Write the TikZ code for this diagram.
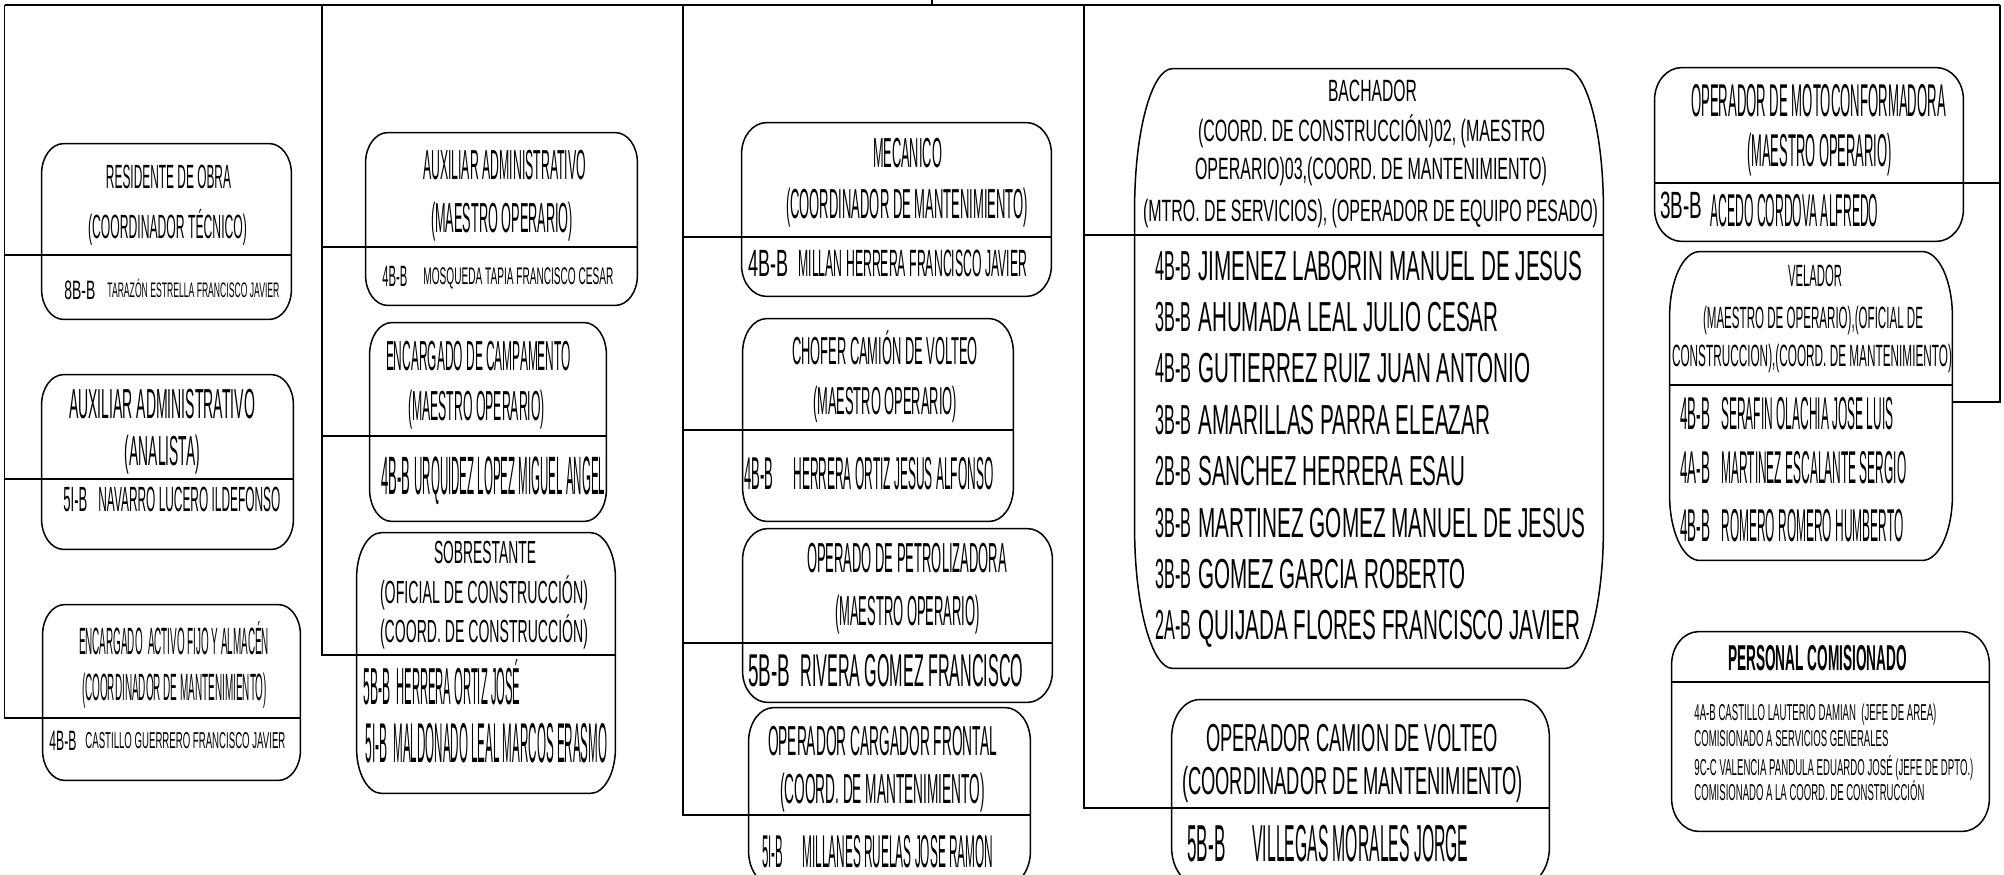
\documentclass[tikz,border=0pt]{standalone}
\usepackage{fontspec}
\setmainfont{Liberation Sans}
\usepackage{graphicx}
\usetikzlibrary{calc}

% one pixel of the drawing
\newlength{\pxu}\setlength{\pxu}{0.5pt}
\newcommand{\fitw}[2]{\resizebox{#1\pxu}{\height}{#2}}

\tikzset{
  edge line/.style={line width=0.75pt},
  box line/.style={line width=0.75pt},
  lbl/.style={inner sep=0pt, anchor=base, font=\fontsize{#1}{#1}\selectfont},
  lblw/.style={inner sep=0pt, anchor=base west, font=\fontsize{#1}{#1}\selectfont},
}

% name, x1, y1, x2, y2, rx, ry, y of divider
\newcommand{\orgbox}[8]{%
  \node[inner sep=0pt, minimum width={(#4-#2)*0.5pt}, minimum height={(#5-#3)*0.5pt}]
    (#1) at ({(#2+#4)/2},{(#3+#5)/2}) {};
  \draw[box line] ([xshift={#6*0.5pt}]#1.north west) -- ([xshift={-#6*0.5pt}]#1.north east)
    arc[start angle=90, end angle=0, x radius={#6*0.5pt}, y radius={#7*0.5pt}]
    -- ([yshift={#7*0.5pt}]#1.south east)
    arc[start angle=0, end angle=-90, x radius={#6*0.5pt}, y radius={#7*0.5pt}]
    -- ([xshift={#6*0.5pt}]#1.south west)
    arc[start angle=270, end angle=180, x radius={#6*0.5pt}, y radius={#7*0.5pt}]
    -- ([yshift={-#7*0.5pt}]#1.north west)
    arc[start angle=180, end angle=90, x radius={#6*0.5pt}, y radius={#7*0.5pt}] -- cycle;
  \coordinate (#1-d) at (#1.west |- 0,#8);
  \draw[box line] (#1-d) -- (#1.east |- #1-d);
}

\begin{document}
\begin{tikzpicture}[x=0.5pt, y=-0.5pt]
\useasboundingbox (0,0) rectangle (2004,874);

% boxes
\orgbox{res}{42}{144}{291}{319}{22}{30}{255}
\orgbox{ana}{42}{375}{293}{549}{22}{30}{479}
\orgbox{enc}{43}{605}{300}{780}{22}{30}{718}
\orgbox{aux}{366}{133}{637}{305}{22}{30}{247}
\orgbox{cam}{370}{323}{606}{521}{22}{32}{436}
\orgbox{sob}{357}{533}{615}{793}{25}{45}{655}
\orgbox{mec}{742}{123}{1051}{296}{25}{31}{237}
\orgbox{cho}{743}{319}{1013}{521}{24}{34}{430}
\orgbox{pet}{743}{529}{1052}{702}{25}{31}{643}
\orgbox{car}{749}{708}{1030}{885}{25}{34}{815}
\orgbox{bac}{1135}{69}{1603}{668}{38}{140}{235}
\orgbox{cv}{1172}{700}{1549}{885}{28}{38}{808}
\orgbox{moto}{1655}{68}{1963}{241}{27}{32}{183}
\orgbox{vel}{1670}{252}{1952}{560}{30}{65}{385}
\orgbox{pc}{1672}{632}{1989}{831}{27}{33}{682}

% column lines
\coordinate (c1) at (4.5,5);
\coordinate (c2) at (322,5);
\coordinate (c3) at (683,5);
\coordinate (c4) at (1084,5);
\coordinate (c5) at (2000,5);
\coordinate (up) at (932,0);
\coordinate (vel-b) at (vel.east |- 0,402);

\draw[edge line] (c1) -- (c5);
\draw[edge line] (up) -- (up |- c1);
\draw[edge line] (c1) -- (c1 |- enc-d) -- (enc-d);
\draw[edge line] (c2) -- (c2 |- sob-d) -- (sob-d);
\draw[edge line] (c3) -- (c3 |- car-d) -- (car-d);
\draw[edge line] (c4) -- (c4 |- cv-d) -- (cv-d);
\draw[edge line] (c5) -- (c5 |- vel-b) -- (vel-b);
\draw[edge line] (moto-d) -- (moto-d -| c5);
\foreach \b in {res,ana} \draw[edge line] (c1 |- \b-d) -- (\b-d);
\foreach \b in {aux,cam} \draw[edge line] (c2 |- \b-d) -- (\b-d);
\foreach \b in {mec,cho,pet} \draw[edge line] (c3 |- \b-d) -- (\b-d);
\draw[edge line] (c4 |- bac-d) -- (bac-d);

% column 1
\node[lbl=16.8] (res-t1) at (168.5,188) {\fitw{125}{RESIDENTE DE OBRA}};
\node[lbl=16.8] (res-t2) at (167.5,238) {\fitw{159}{(COORDINADOR TÉCNICO)}};
\node[lblw=13.3] (res-c) at (64,299.5) {\fitw{31}{8B-B}};
\node[lblw=10.5] (res-n) at (107,297.5) {\fitw{172}{TARAZÓN ESTRELLA FRANCISCO JAVIER}};

\node[lbl=21] (ana-t1) at (162,418) {\fitw{186}{AUXILIAR ADMINISTRATIVO}};
\node[lbl=21] (ana-t2) at (162.5,465) {\fitw{75}{(ANALISTA)}};
\node[lblw=17.5] (ana-c) at (63,511.5) {\fitw{24}{5I-B}};
\node[lblw=17.5] (ana-n) at (98,511.5) {\fitw{182}{NAVARRO LUCERO ILDEFONSO}};

\node[lbl=19] (enc-t1) at (174,654.5) {\fitw{190}{ENCARGADO\ \ ACTIVO FIJO Y ALMACÉN}};
\node[lbl=19] (enc-t2) at (174.5,700.5) {\fitw{185}{(COORDINADOR DE MANTENIMIENTO)}};
\node[lblw=14] (enc-c) at (49,750) {\fitw{27}{4B-B}};
\node[lblw=11.5] (enc-n) at (85,748) {\fitw{200}{CASTILLO GUERRERO FRANCISCO JAVIER}};

% column 2
\node[lbl=21] (aux-t1) at (504.5,179) {\fitw{163}{AUXILIAR ADMINISTRATIVO}};
\node[lbl=21] (aux-t2) at (502,232) {\fitw{142}{(MAESTRO OPERARIO)}};
\node[lblw=14.7] (aux-c) at (382,286.5) {\fitw{25}{4B-B}};
\node[lblw=12] (aux-n) at (423,284.5) {\fitw{190}{MOSQUEDA TAPIA FRANCISCO CESAR}};

\node[lbl=21] (cam-t1) at (478.5,370) {\fitw{185}{ENCARGADO DE CAMPAMENTO}};
\node[lbl=21] (cam-t2) at (476.5,420) {\fitw{137}{(MAESTRO OPERARIO)}};
\node[lblw=27] (cam-c) at (381,494.5) {\fitw{29}{4B-B}};
\node[lblw=27] (cam-n) at (414,494.5) {\fitw{191}{URQUIDEZ LOPEZ MIGUEL ANGEL}};

\node[lbl=16] (sob-t1) at (485,563.5) {\fitw{102}{SOBRESTANTE}};
\node[lbl=16] (sob-t2) at (484,603.5) {\fitw{208}{(OFICIAL DE CONSTRUCCIÓN)}};
\node[lbl=16] (sob-t3) at (484,642.5) {\fitw{208}{(COORD. DE CONSTRUCCIÓN)}};
\node[lblw=26] (sob-c1) at (363,704.5) {\fitw{27}{5B-B}};
\node[lblw=26] (sob-n1) at (396,704.5) {\fitw{124}{HERRERA ORTIZ JOSÉ}};
\node[lblw=28] (sob-c2) at (365,762) {\fitw{22}{5I-B}};
\node[lblw=28] (sob-n2) at (393,762) {\fitw{214}{MALDONADO LEAL MARCOS ERASMO}};

% column 3
\node[lbl=21] (mec-t1) at (907.5,167) {\fitw{69}{MECANICO}};
\node[lbl=21] (mec-t2) at (907,218) {\fitw{242}{(COORDINADOR DE MANTENIMIENTO)}};
\node[lblw=19] (mec-c) at (748,276.5) {\fitw{40}{4B-B}};
\node[lblw=19] (mec-n) at (798,276.5) {\fitw{229}{MILLAN HERRERA FRANCISCO JAVIER}};

\node[lbl=19.5] (cho-t1) at (885,364) {\fitw{186}{CHOFER CAMIÓN DE VOLTEO}};
\node[lbl=19.5] (cho-t2) at (885,414) {\fitw{144}{(MAESTRO OPERARIO)}};
\node[lblw=23] (cho-c) at (744,489.5) {\fitw{29}{4B-B}};
\node[lblw=23] (cho-n) at (793,489.5) {\fitw{200}{HERRERA ORTIZ JESUS ALFONSO}};

\node[lbl=21] (pet-t1) at (907,572) {\fitw{200}{OPERADO DE PETROLIZADORA}};
\node[lbl=21] (pet-t2) at (907.5,625) {\fitw{145}{(MAESTRO OPERARIO)}};
\node[lblw=23] (pet-c) at (748,686.5) {\fitw{42}{5B-B}};
\node[lblw=23] (pet-n) at (800,686.5) {\fitw{223}{RIVERA GOMEZ FRANCISCO}};

\node[lbl=21] (car-t1) at (882.5,755) {\fitw{229}{OPERADOR CARGADOR FRONTAL}};
\node[lbl=21] (car-t2) at (882.5,803) {\fitw{205}{(COORD. DE MANTENIMIENTO)}};
\node[lblw=23] (car-c) at (762,867) {\fitw{21}{5I-B}};
\node[lblw=23] (car-n) at (802,867) {\fitw{191}{MILLANES RUELAS JOSE RAMON}};

% column 4
\node[lbl=15.4] (bac-t1) at (1372.5,101) {\fitw{89}{BACHADOR}};
\node[lbl=15.4] (bac-t2) at (1371.5,141) {\fitw{347}{(COORD. DE CONSTRUCCIÓN)02, (MAESTRO}};
\node[lbl=15.4] (bac-t3) at (1371,179) {\fitw{352}{OPERARIO)03,(COORD. DE MANTENIMIENTO)}};
\node[lbl=15.4] (bac-t4) at (1370.5,221) {\fitw{455}{(MTRO. DE SERVICIOS), (OPERADOR DE EQUIPO PESADO)}};
\foreach \cd/\nm/\w [count=\i from 0] in {
    4B-B/JIMENEZ LABORIN MANUEL DE JESUS/384,
    3B-B/AHUMADA LEAL JULIO CESAR/300,
    4B-B/GUTIERREZ RUIZ JUAN ANTONIO/332,
    3B-B/AMARILLAS PARRA ELEAZAR/292,
    2B-B/SANCHEZ HERRERA ESAU/267,
    3B-B/MARTINEZ GOMEZ MANUEL DE JESUS/387,
    3B-B/GOMEZ GARCIA ROBERTO/267,
    2A-B/QUIJADA FLORES FRANCISCO JAVIER/382} {
  \node[lblw=21] (bac-c\i) at (1155,{280+51.4*\i}) {\fitw{36}{\cd}};
  \node[lblw=21] (bac-n\i) at (1198,{280+51.4*\i}) {\fitw{\w}{\nm}};
}

\node[lbl=19.5] (cv-t1) at (1352,751) {\fitw{292}{OPERADOR CAMION DE VOLTEO}};
\node[lbl=19.5] (cv-t2) at (1352.5,794) {\fitw{341}{(COORDINADOR DE MANTENIMIENTO)}};
\node[lblw=26] (cv-c) at (1187,861.5) {\fitw{38}{5B-B}};
\node[lblw=26] (cv-n) at (1252,861.5) {\fitw{216}{VILLEGAS MORALES JORGE}};

% column 5
\node[lbl=23] (moto-t1) at (1818.5,116.5) {\fitw{255}{OPERADOR DE MOTOCONFORMADORA}};
\node[lbl=23] (moto-t2) at (1819.5,166.5) {\fitw{145}{(MAESTRO OPERARIO)}};
\node[lblw=19] (moto-c) at (1660,218) {\fitw{42}{3B-B}};
\node[lblw=23] (moto-n) at (1710,226.5) {\fitw{168}{ACEDO CORDOVA ALFREDO}};

\node[lbl=15.4] (vel-t1) at (1815,286) {\fitw{54}{VELADOR}};
\node[lbl=15.4] (vel-t2) at (1813,328) {\fitw{220}{(MAESTRO DE OPERARIO),(OFICIAL DE}};
\node[lbl=15.4] (vel-t3) at (1812,366) {\fitw{280}{CONSTRUCCION),(COORD. DE MANTENIMIENTO)}};
\foreach \cd/\nm/\w/\y [count=\i] in {
    4B-B/SERAFIN OLACHIA JOSE LUIS/172/429.5,
    4A-B/MARTINEZ ESCALANTE SERGIO/185/483.5,
    4B-B/ROMERO ROMERO HUMBERTO/182/541.5} {
  \node[lblw=23] (vel-c\i) at (1680,\y) {\fitw{30}{\cd}};
  \node[lblw=23] (vel-n\i) at (1721,\y) {\fitw{\w}{\nm}};
}

\node[lbl=18] (pc-t) at (1817.5,670) {\bfseries\fitw{179}{PERSONAL COMISIONADO}};
\foreach \txt/\w/\y [count=\i] in {
    4A-B CASTILLO LAUTERIO DAMIAN\ \ (JEFE DE AREA)/242/720,
    COMISIONADO A SERVICIOS GENERALES/194/746,
    9C-C VALENCIA PANDULA EDUARDO JOSÉ (JEFE DE DPTO.)/279/775,
    COMISIONADO A LA COORD. DE CONSTRUCCIÓN/230/800} {
  \node[lblw=11.5] (pc-l\i) at (1694,\y) {\fitw{\w}{\txt}};
}

\end{tikzpicture}
\end{document}
